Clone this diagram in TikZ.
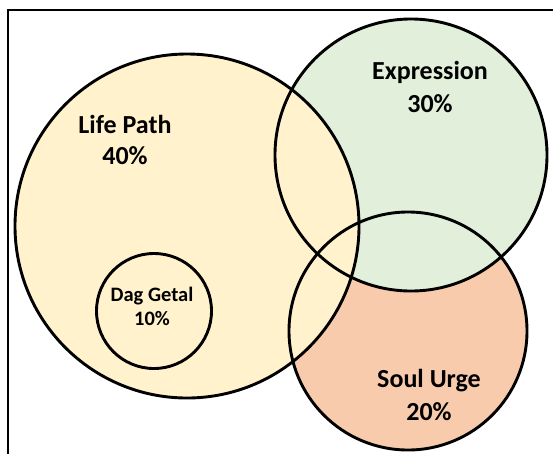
\documentclass[tikz,border=0pt]{standalone}
\usepackage{fontspec}
\setmainfont{Carlito}
\definecolor{lpfill}{HTML}{FFF2CC}
\definecolor{exfill}{HTML}{E2EFDA}
\definecolor{sufill}{HTML}{F8CBAD}
\begin{document}
\begin{tikzpicture}[x=1pt,y=-1pt,
  ring/.style={circle,draw=black,line width=2.9pt,inner sep=0pt},
  big/.style={font=\fontsize{26}{30}\selectfont\bfseries,align=center,inner sep=0pt},
  small/.style={font=\fontsize{20.5}{24}\selectfont\bfseries,align=center,inner sep=0pt}]
\useasboundingbox (0,0) rectangle (553,453);
\begin{scope}
\clip (0,0) rectangle (553,453);
\draw[line width=2pt] (8,470) -- (8,10) -- (570,10);
\fill[sufill] (408,331) circle (119);
\fill[exfill] (411,155) circle (136);
\fill[lpfill] (187,226) circle (172);
\node[ring,minimum size=238pt] (su) at (408,331) {};
\node[ring,minimum size=272pt] (ex) at (411,155) {};
\node[ring,minimum size=344pt] (lp) at (187,226) {};
\node[ring,minimum size=115pt] (dg) at (154,311) {};
\end{scope}
\node[big] (lpt) at (125,124) {Life Path};
\node[big] (lpp) at (125,156) {40\%};
\node[big] (ext) at (430,72) {Expression};
\node[big] (exp) at (430,104) {30\%};
\node[big] (sut) at (429,381) {Soul Urge};
\node[big] (sup) at (429,412) {20\%};
\node[small] (dgt) at (152,296) {Dag Getal};
\node[small] (dgp) at (152,319) {10\%};
\end{tikzpicture}
\end{document}
